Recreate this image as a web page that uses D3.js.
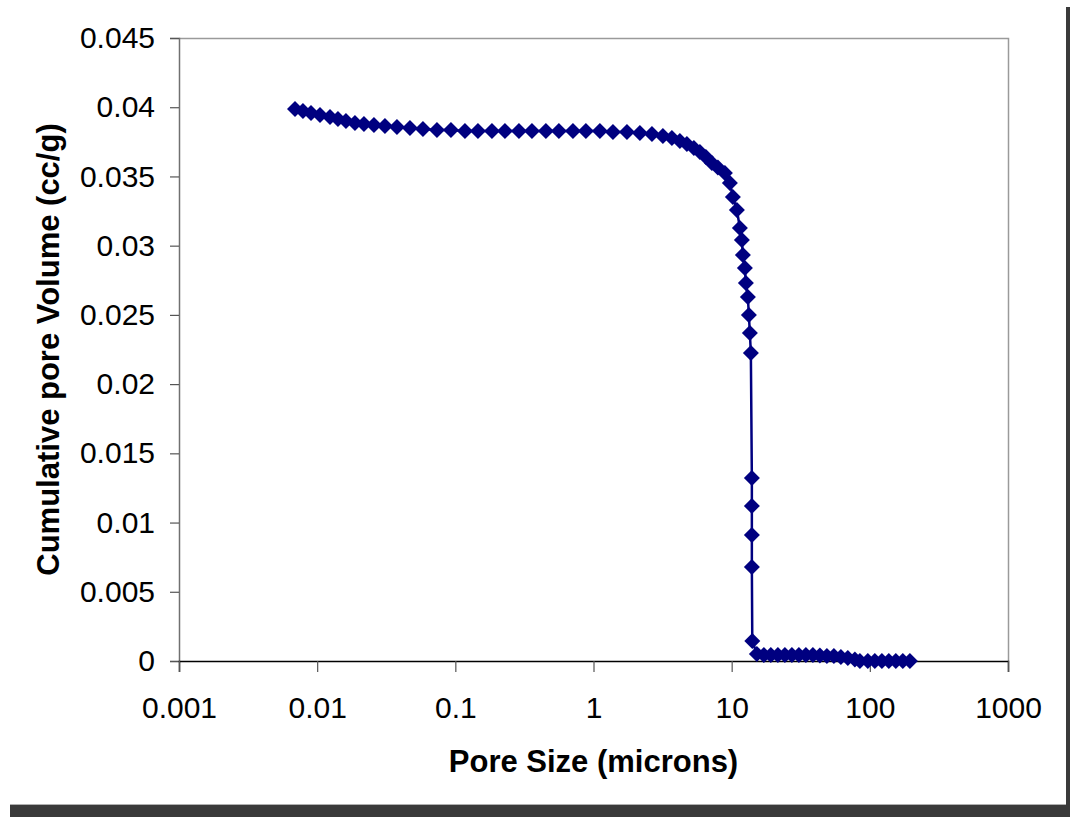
<!DOCTYPE html>
<html>
<head>
<meta charset="utf-8">
<script src="https://cdn.jsdelivr.net/npm/d3@7"></script>
<style>
  html, body { margin: 0; padding: 0; background: #ffffff; }
  svg { display: block; }
  text { font-family: Arial, "Liberation Sans", sans-serif; fill: #000; }
</style>
</head>
<body>
<svg id="chart" width="1070" height="817"></svg>
<script>
// Pore size (microns)
const poreSize = [
  0.00691, 0.00789, 0.00902, 0.01048, 0.01238, 0.01414, 0.01616, 0.01877, 0.02181, 0.02576,
  0.03095, 0.0378, 0.04694, 0.0583, 0.0736, 0.09294, 0.1174, 0.1457, 0.184, 0.2285,
  0.2885, 0.3583, 0.4524, 0.5618, 0.7095, 0.8811, 1.112, 1.382, 1.745, 2.166,
  2.647, 3.178, 3.692, 4.22, 4.741, 5.328, 5.888, 6.507, 7.19, 7.95,
  8.929, 9.705, 10.2, 10.91, 11.47, 11.85, 12.05, 12.46, 12.67, 13.1,
  13.32, 13.54, 13.77, 14.0, 14.0, 14.0, 14.0, 14.1,
  15.22, 17.1, 19.21, 21.59, 24.27, 27.27, 30.64, 34.43, 38.69, 43.48,
  48.86, 54.9, 61.69, 69.31, 77.9, 84.67,
  96.7, 108.7, 122.2, 137.2, 154.2, 173.3, 194.8
];
// Cumulative pore volume (cc/g)
const cumVolume = [
  0.03987, 0.03973, 0.03958, 0.03944, 0.03929, 0.03915, 0.03901, 0.03886, 0.03879, 0.03872,
  0.03865, 0.03857, 0.0385, 0.03843, 0.03836, 0.03836, 0.03828, 0.03828, 0.03828, 0.03828,
  0.03828, 0.03828, 0.03828, 0.03828, 0.03828, 0.03828, 0.03828, 0.03821, 0.03821, 0.03814,
  0.03807, 0.03792, 0.03778, 0.03756, 0.03734, 0.03706, 0.03677, 0.03641, 0.03597, 0.03565,
  0.03525, 0.03453, 0.03352, 0.03258, 0.03128, 0.03041, 0.02933, 0.02839, 0.0273, 0.02629,
  0.02499, 0.02369, 0.02225, 0.01322, 0.0112, 0.0091, 0.00679, 0.00144,
  0.00051, 0.00043, 0.00043, 0.00043, 0.00043, 0.00043, 0.00043, 0.00043, 0.00043, 0.0004,
  0.00036, 0.00036, 0.00029, 0.00022, 0.00011, 0.0,
  0.0, 0.0, 0.0, 0.0, 0.0, 0.0, 0.0
];
const xTicks = [0.001, 0.01, 0.1, 1, 10, 100, 1000];
const xTickLabels = ["0.001", "0.01", "0.1", "1", "10", "100", "1000"];
const yTicks = [0, 0.005, 0.01, 0.015, 0.02, 0.025, 0.03, 0.035, 0.04, 0.045];
const yTickLabels = ["0", "0.005", "0.01", "0.015", "0.02", "0.025", "0.03", "0.035", "0.04", "0.045"];
const xTitle = "Pore Size (microns)";
const yTitle = "Cumulative pore Volume (cc/g)";

const svg = d3.select("#chart");
const W = 1070, H = 817;
const plot = { left: 179, right: 1008, top: 38, bottom: 661 };
const navy = "#000080";

// shadow frame
svg.append("rect").attr("x", 10).attr("y", 805).attr("width", W - 10).attr("height", H - 805).attr("fill", "#3a3a3a");
svg.append("rect").attr("x", 1066).attr("y", 7).attr("width", 4).attr("height", H - 7).attr("fill", "#3a3a3a");
svg.append("line").attr("x1", 10).attr("x2", 1066).attr("y1", 804.5).attr("y2", 804.5).attr("stroke", "#b0b0b0");

const x = d3.scaleLog().domain([0.001, 1000]).range([plot.left, plot.right]);
const y = d3.scaleLinear().domain([0, 0.045]).range([plot.bottom, plot.top]);

// plot area border (top & right)
svg.append("path")
  .attr("d", `M${plot.left},${plot.top + 0.5}H${plot.right + 0.5}V${plot.bottom}`)
  .attr("fill", "none").attr("stroke", "#9a9a9a").attr("stroke-width", 1.5);

// Y axis
const yAxis = svg.append("g").attr("transform", `translate(${plot.left},0)`)
  .call(d3.axisLeft(y).tickValues(yTicks).tickSize(9).tickPadding(15)
    .tickFormat((d, i) => yTickLabels[i]));
yAxis.select(".domain").attr("stroke", "#707070").attr("stroke-width", 1.5);
yAxis.selectAll(".tick line").attr("stroke", "#555").attr("stroke-width", 1.2);
yAxis.selectAll("text").attr("font-size", 30).attr("font-family", "Arial, 'Liberation Sans', sans-serif").attr("fill", "#000");

// X axis
const xAxis = svg.append("g").attr("transform", `translate(0,${plot.bottom})`)
  .call(d3.axisBottom(x).tickValues(xTicks).tickSize(11).tickPadding(25)
    .tickFormat((d, i) => xTickLabels[i]));
xAxis.select(".domain").attr("stroke", "#000").attr("stroke-width", 1.5);
xAxis.selectAll(".tick line").attr("stroke", "#555").attr("stroke-width", 1.2);
xAxis.selectAll("text").attr("font-size", 30).attr("font-family", "Arial, 'Liberation Sans', sans-serif").attr("fill", "#000");

// titles
svg.append("text")
  .attr("x", (plot.left + plot.right) / 2).attr("y", 772)
  .attr("text-anchor", "middle").attr("font-size", 31).attr("font-weight", "bold")
  .text(xTitle);
svg.append("text")
  .attr("transform", `translate(59,${(plot.top + plot.bottom) / 2}) rotate(-90)`)
  .attr("text-anchor", "middle").attr("font-size", 31).attr("font-weight", "bold")
  .text(yTitle);

// data
const data = poreSize.map((d, i) => ({ d, v: cumVolume[i] }));
const line = d3.line().x(p => x(p.d)).y(p => y(p.v));
svg.append("path").datum(data)
  .attr("d", line).attr("fill", "none").attr("stroke", navy).attr("stroke-width", 2.5);

const r = 8;
svg.append("g").selectAll("path").data(data).join("path")
  .attr("transform", p => `translate(${x(p.d)},${y(p.v)})`)
  .attr("d", `M0,${-r}L${r},0L0,${r}L${-r},0Z`)
  .attr("fill", navy);
</script>
</body>
</html>
